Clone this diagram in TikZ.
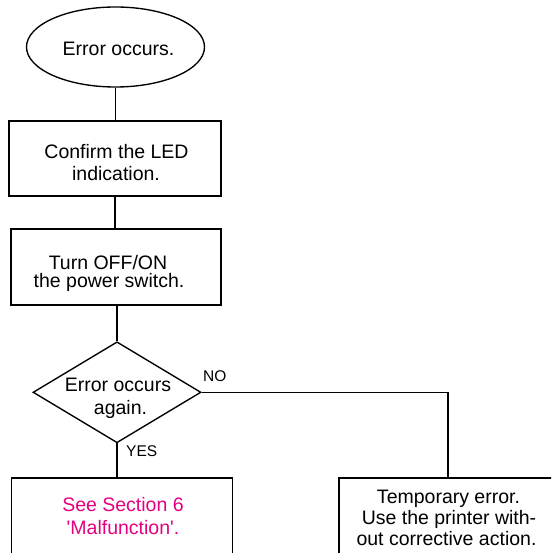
\documentclass[tikz,border=0pt]{standalone}
\usepackage{fontspec}
\setmainfont{Liberation Sans}[Ligatures=TeXOff]
\usetikzlibrary{shapes.geometric}
\definecolor{magentatext}{RGB}{228,0,127}
\begin{document}
\begin{tikzpicture}[x=1pt,y=-1pt,
  shapeline/.style={draw, line width=1.35pt, inner sep=0pt},
  boxnode/.style={shapeline, rectangle},
  conn/.style={line width=1.35pt},
  txt/.style={font=\fontsize{19.5}{21.5}\selectfont, anchor=base, inner sep=0pt},
  lbl/.style={font=\fontsize{15.5}{17}\selectfont, anchor=base west, inner sep=0pt}]
\useasboundingbox (0,0) rectangle (551,553);
\clip (0,0) rectangle (551,553);
% shapes
\node[shapeline, ellipse, minimum width=178pt, minimum height=80pt] (start) at (115.5,47) {};
\node[boxnode, minimum width=212pt, minimum height=75pt] (b1) at (115,158.5) {};
\node[boxnode, minimum width=210pt, minimum height=76pt] (b2) at (116,267) {};
\node[shapeline, diamond, minimum width=168pt, minimum height=101pt] (dec) at (117,392.3) {};
\node[boxnode, minimum width=220.6pt, minimum height=122pt] (b3) at (122,539) {};
\node[boxnode, minimum width=218pt, minimum height=122pt] (b4) at (448,539) {};
% texts
\node[txt] (t0) at (118.5,55.7) {Error occurs.};
\node[txt] (t1a) at (116.5,159) {Confirm the LED};
\node[txt] (t1b) at (116,180.5) {indication.};
\node[txt] (t2a) at (108,269) {Turn OFF/ON};
\node[txt] (t2b) at (109,287.8) {the power switch.};
\node[txt] (t3a) at (118,391.5) {Error occurs};
\node[txt] (t3b) at (120.5,414.5) {again.};
\node[txt, text=magentatext] (t4a) at (123,511.7) {See Section 6};
\node[txt, text=magentatext] (t4b) at (123,534) {'Malfunction'.};
\node[txt] (t5a) at (448.5,503) {Temporary error.};
\node[txt] (t5b) at (449,524) {Use the printer with-};
\node[txt] (t5c) at (446.5,545) {out corrective action.};
\node[lbl] (no) at (203,381.7) {NO};
\node[lbl] (yes) at (126,456.7) {YES};
% connectors
\draw[conn] (start.south) -- (start.south |- b1.north);
\draw[conn] (b1.south) -- (b1.south |- b2.north);
\draw[conn] (dec.north |- b2.south) -- (dec.north);
\draw[conn] (dec.south) -- (dec.south |- b3.north);
\draw[conn] (dec.east) -| (b4.north);
\end{tikzpicture}
\end{document}
